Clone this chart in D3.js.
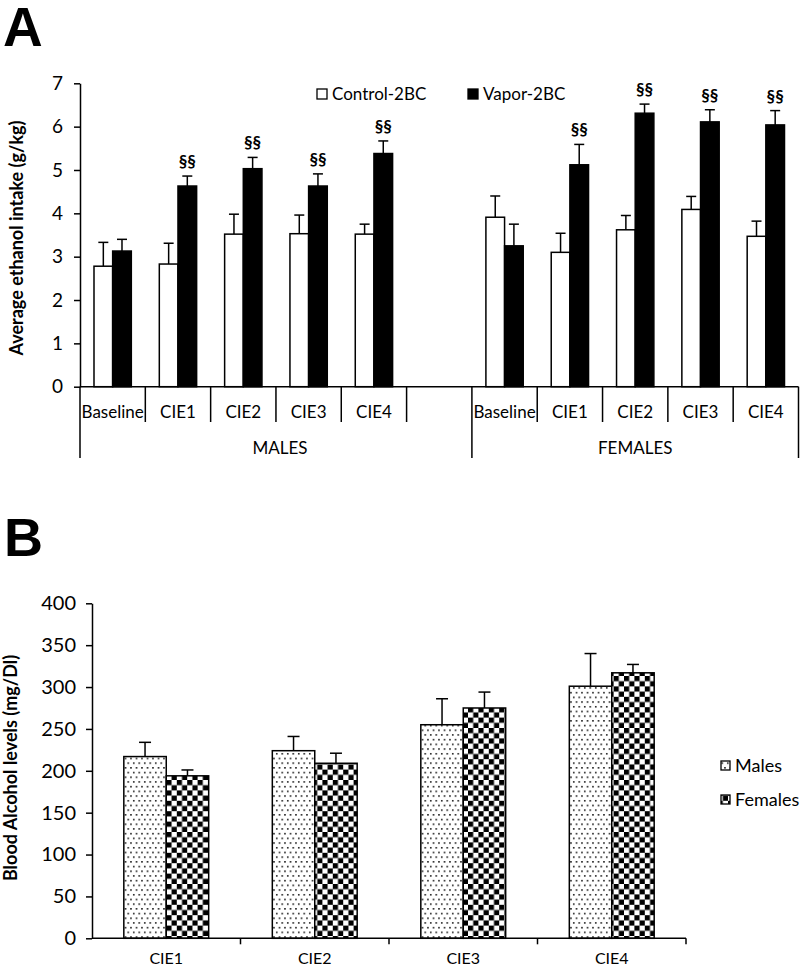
<!DOCTYPE html>
<html>
<head>
<meta charset="utf-8">
<script src="https://cdn.jsdelivr.net/npm/d3@7"></script>
<style>
  html, body { margin: 0; padding: 0; background: #fff; }
  svg { display: block; font-family: Lato, "Open Sans", sans-serif; }
</style>
</head>
<body>
<svg id="chart" width="800" height="969"></svg>
<script>
// ---------- Panel A data ----------
const catsA = ["Baseline", "CIE1", "CIE2", "CIE3", "CIE4"];
const groupsA = ["MALES", "FEMALES"];
const seriesA = ["Control-2BC", "Vapor-2BC"];
const maleControl = [2.78, 2.83, 3.52, 3.53, 3.52];
const maleControlErr = [0.55, 0.48, 0.46, 0.43, 0.23];
const maleVapor = [3.13, 4.63, 5.03, 4.63, 5.38];
const maleVaporErr = [0.27, 0.23, 0.26, 0.28, 0.29];
const femaleControl = [3.91, 3.10, 3.62, 4.09, 3.47];
const femaleControlErr = [0.49, 0.44, 0.33, 0.30, 0.35];
const femaleVapor = [3.25, 5.12, 6.31, 6.11, 6.04];
const femaleVaporErr = [0.50, 0.47, 0.21, 0.28, 0.33];
const sigMale = ["", "§§", "§§", "§§", "§§"];
const sigFemale = ["", "§§", "§§", "§§", "§§"];
const ticksA = [0, 1, 2, 3, 4, 5, 6, 7];

// ---------- Panel B data ----------
const catsB = ["CIE1", "CIE2", "CIE3", "CIE4"];
const seriesB = ["Males", "Females"];
const becMales = [217, 224, 255, 301];
const becMalesErr = [17, 17, 31, 39];
const becFemales = [194, 209, 275, 317];
const becFemalesErr = [7, 12, 19, 10];
const ticksB = [0, 50, 100, 150, 200, 250, 300, 350, 400];

const svg = d3.select("#chart");

// patterns
const defs = svg.append("defs");
const dots = defs.append("pattern").attr("id", "dots")
  .attr("patternUnits", "userSpaceOnUse").attr("width", 5.5).attr("height", 9.4);
dots.append("rect").attr("width", 5.5).attr("height", 9.4).attr("fill", "#fff");
dots.append("rect").attr("x", 1).attr("y", 1).attr("width", 1.5).attr("height", 1.5).attr("fill", "#000");
dots.append("rect").attr("x", 3.75).attr("y", 5.7).attr("width", 1.5).attr("height", 1.5).attr("fill", "#000");
const checker = defs.append("pattern").attr("id", "checker")
  .attr("patternUnits", "userSpaceOnUse").attr("width", 10.4).attr("height", 10.4);
checker.append("rect").attr("width", 10.4).attr("height", 10.4).attr("fill", "#fff");
checker.append("rect").attr("width", 5.2).attr("height", 5.2).attr("fill", "#000");
checker.append("rect").attr("x", 5.2).attr("y", 5.2).attr("width", 5.2).attr("height", 5.2).attr("fill", "#000");

// ================= PANEL A =================
svg.append("text").attr("x", 3).attr("y", 46)
  .attr("font-family", "Liberation Sans, Arial, sans-serif")
  .attr("font-weight", "bold").attr("font-size", 55).text("A");

const yA = d3.scaleLinear().domain([0, 7]).range([386.7, 83.3]);
const slotKeys = [];
catsA.forEach(c => slotKeys.push("M|" + c));
slotKeys.push("M|");
catsA.forEach(c => slotKeys.push("F|" + c));
const xA = d3.scaleBand().domain(slotKeys).range([80, 798.5]).padding(0);
const bwA = xA.bandwidth();
const wA = bwA / 3.5;
const xA1 = d3.scaleBand().domain(seriesA).range([0.75 * wA, 2.75 * wA]).padding(0);

const rowsA = [];
catsA.forEach((c, i) => {
  rowsA.push({ key: "M|" + c, s: seriesA[0], v: maleControl[i], e: maleControlErr[i], sig: "" });
  rowsA.push({ key: "M|" + c, s: seriesA[1], v: maleVapor[i], e: maleVaporErr[i], sig: sigMale[i] });
  rowsA.push({ key: "F|" + c, s: seriesA[0], v: femaleControl[i], e: femaleControlErr[i], sig: "" });
  rowsA.push({ key: "F|" + c, s: seriesA[1], v: femaleVapor[i], e: femaleVaporErr[i], sig: sigFemale[i] });
});

const gA = svg.append("g");
gA.selectAll(".errA").data(rowsA).enter().append("g").each(function (d) {
  const cx = xA(d.key) + xA1(d.s) + xA1.bandwidth() / 2;
  const g = d3.select(this);
  g.append("line").attr("x1", cx).attr("x2", cx).attr("y1", yA(d.v)).attr("y2", yA(d.v + d.e))
    .attr("stroke", "#000").attr("stroke-width", 1.5);
  g.append("line").attr("x1", cx - 5).attr("x2", cx + 5).attr("y1", yA(d.v + d.e)).attr("y2", yA(d.v + d.e))
    .attr("stroke", "#000").attr("stroke-width", 1.5);
  if (d.sig) {
    g.append("text").attr("x", cx).attr("y", yA(d.v + d.e) - 9).attr("text-anchor", "middle")
      .attr("font-weight", "bold").attr("font-size", 17).text(d.sig);
  }
});
gA.selectAll(".barA").data(rowsA).enter().append("rect")
  .attr("x", d => xA(d.key) + xA1(d.s))
  .attr("width", xA1.bandwidth())
  .attr("y", d => yA(d.v))
  .attr("height", d => yA(0) - yA(d.v))
  .attr("fill", d => d.s === seriesA[0] ? "#fff" : "#000")
  .attr("stroke", "#000").attr("stroke-width", 1.5);

// y axis A
const axA = svg.append("g").attr("transform", "translate(80,0)")
  .call(d3.axisLeft(yA).tickValues(ticksA).tickFormat(d3.format("d"))
    .tickSize(6).tickPadding(11).tickSizeOuter(0));
axA.select(".domain").attr("stroke-width", 1.5);
axA.selectAll(".tick line").attr("stroke-width", 1.5);
axA.selectAll(".tick text").attr("font-size", 19).attr("font-family", "Lato, sans-serif").attr("fill", "#000");

// x axis A (multi-level)
svg.append("line").attr("x1", 80).attr("x2", 798.5).attr("y1", yA(0)).attr("y2", yA(0))
  .attr("stroke", "#000").attr("stroke-width", 1.5);
slotKeys.forEach((k, i) => {
  const x0 = xA(k);
  const isLong = (i === 0 || k === "F|" + catsA[0]);
  svg.append("line").attr("x1", x0).attr("x2", x0).attr("y1", yA(0)).attr("y2", isLong ? 458 : 422)
    .attr("stroke", "#000").attr("stroke-width", 1.5);
  const lbl = k.split("|")[1];
  if (lbl) {
    svg.append("text").attr("x", x0 + bwA / 2).attr("y", 418).attr("text-anchor", "middle")
      .attr("font-size", 17).text(lbl);
  }
});
svg.append("line").attr("x1", 798.5).attr("x2", 798.5).attr("y1", yA(0)).attr("y2", 458)
  .attr("stroke", "#000").attr("stroke-width", 1.5);
const mStart = xA("M|" + catsA[0]), fStart = xA("F|" + catsA[0]);
svg.append("text").attr("x", (mStart + fStart) / 2 + 4).attr("y", 454).attr("text-anchor", "middle")
  .attr("font-size", 17).text(groupsA[0]);
svg.append("text").attr("x", (fStart + 798.5) / 2).attr("y", 454).attr("text-anchor", "middle")
  .attr("font-size", 17).text(groupsA[1]);

// y label A
svg.append("text").attr("transform", "translate(23,238) rotate(-90)").attr("text-anchor", "middle")
  .attr("font-weight", "bold").attr("font-size", 18).text("Average ethanol intake (g/kg)");

// legend A
const legA = [{ s: seriesA[0], x: 317, fill: "#fff" }, { s: seriesA[1], x: 468, fill: "#000" }];
legA.forEach(l => {
  svg.append("rect").attr("x", l.x).attr("y", 89).attr("width", 10).attr("height", 10)
    .attr("fill", l.fill).attr("stroke", "#000").attr("stroke-width", 1.3);
  svg.append("text").attr("x", l.x + 15).attr("y", 100).attr("font-size", 17).text(l.s);
});

// ================= PANEL B =================
svg.append("text").attr("x", 4).attr("y", 556)
  .attr("font-family", "Liberation Sans, Arial, sans-serif")
  .attr("font-weight", "bold").attr("font-size", 54).text("B");

const yB = d3.scaleLinear().domain([0, 400]).range([938.3, 603.3]);
const xB = d3.scaleBand().domain(catsB).range([92, 686]).padding(0);
const bwB = xB.bandwidth();
const wB = bwB / 3.5;
const xB1 = d3.scaleBand().domain(seriesB).range([0.75 * wB, 2.75 * wB]).padding(0);

const rowsB = [];
catsB.forEach((c, i) => {
  rowsB.push({ c, s: seriesB[0], v: becMales[i], e: becMalesErr[i] });
  rowsB.push({ c, s: seriesB[1], v: becFemales[i], e: becFemalesErr[i] });
});
const gB = svg.append("g");
gB.selectAll(".errB").data(rowsB).enter().append("g").each(function (d) {
  const cx = xB(d.c) + xB1(d.s) + xB1.bandwidth() / 2;
  const g = d3.select(this);
  g.append("line").attr("x1", cx).attr("x2", cx).attr("y1", yB(d.v)).attr("y2", yB(d.v + d.e))
    .attr("stroke", "#000").attr("stroke-width", 1.5);
  g.append("line").attr("x1", cx - 6).attr("x2", cx + 6).attr("y1", yB(d.v + d.e)).attr("y2", yB(d.v + d.e))
    .attr("stroke", "#000").attr("stroke-width", 1.5);
});
gB.selectAll(".barB").data(rowsB).enter().append("rect")
  .attr("x", d => xB(d.c) + xB1(d.s))
  .attr("width", xB1.bandwidth())
  .attr("y", d => yB(d.v))
  .attr("height", d => yB(0) - yB(d.v))
  .attr("fill", d => d.s === seriesB[0] ? "url(#dots)" : "url(#checker)")
  .attr("stroke", "#000").attr("stroke-width", 1.5);

const axB = svg.append("g").attr("transform", "translate(92,0)")
  .call(d3.axisLeft(yB).tickValues(ticksB).tickFormat(d3.format("d"))
    .tickSize(6).tickPadding(10).tickSizeOuter(0));
axB.select(".domain").attr("stroke-width", 1.5);
axB.selectAll(".tick line").attr("stroke-width", 1.5);
axB.selectAll(".tick text").attr("font-size", 20).attr("font-family", "Lato, sans-serif").attr("fill", "#000");

svg.append("line").attr("x1", 92).attr("x2", 686).attr("y1", yB(0)).attr("y2", yB(0))
  .attr("stroke", "#000").attr("stroke-width", 1.5);
catsB.forEach((c, i) => {
  const x0 = xB(c);
  if (i > 0) svg.append("line").attr("x1", x0).attr("x2", x0).attr("y1", yB(0)).attr("y2", yB(0) + 6)
    .attr("stroke", "#000").attr("stroke-width", 1.5);
  svg.append("text").attr("x", x0 + bwB / 2).attr("y", 964).attr("text-anchor", "middle")
    .attr("font-size", 16).text(c);
});
svg.append("line").attr("x1", 686).attr("x2", 686).attr("y1", yB(0)).attr("y2", yB(0) + 6)
  .attr("stroke", "#000").attr("stroke-width", 1.5);

svg.append("text").attr("transform", "translate(17,768) rotate(-90)").attr("text-anchor", "middle")
  .attr("font-weight", "bold").attr("font-size", 18).text("Blood Alcohol levels (mg/Dl)");

// legend B
const legB = [{ s: seriesB[0], y: 761, fill: "url(#dots)" }, { s: seriesB[1], y: 795, fill: "url(#checker)" }];
legB.forEach(l => {
  svg.append("rect").attr("x", 721).attr("y", l.y).attr("width", 9).attr("height", 9)
    .attr("fill", l.fill).attr("stroke", "#000").attr("stroke-width", 1.3);
  svg.append("text").attr("x", 735).attr("y", l.y + 11).attr("font-size", 18).text(l.s);
});
</script>
</body>
</html>
